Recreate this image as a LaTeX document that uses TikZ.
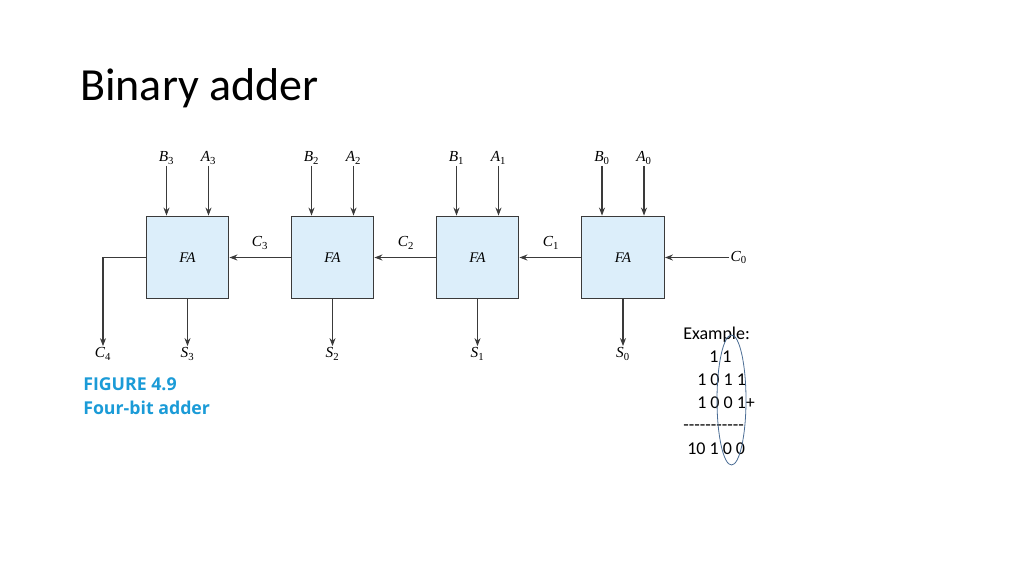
\documentclass[tikz,border=0pt]{standalone}
\usepackage{fontspec}
\setmainfont{Carlito}
\newfontfamily\bookfont{Liberation Serif}
\newfontfamily\capfont{Open Sans}
\usetikzlibrary{arrows.meta,positioning,calc}
\definecolor{fafill}{HTML}{DCEEFA}
\definecolor{faline}{HTML}{3A3A3A}
\definecolor{figblue}{HTML}{1B9BD7}
\definecolor{ringblue}{HTML}{4A6C94}
\newcommand{\sig}[2]{\textit{#1}\textsubscript{#2}}
\tikzset{
  fa/.style={draw=faline, fill=fafill, line width=0.9pt, minimum width=62pt, minimum height=62pt, inner sep=0pt, font=\bookfont\itshape\fontsize{11}{13}\selectfont},
  sg/.style={font=\bookfont\fontsize{11.5}{13}\selectfont, inner sep=1pt},
  arr/.style={-{Stealth[length=6pt,width=4.5pt]}, line width=0.8pt, color=faline},
  ex/.style={anchor=base west, inner sep=0pt, font=\fontsize{13.5}{16}\selectfont},
  figcap/.style={anchor=base west, inner sep=0pt, text=figblue, font=\capfont\bfseries\fontsize{13.3}{16}\selectfont},
}
\begin{document}
\begin{tikzpicture}[x=0.75pt, y=-0.75pt]
  \useasboundingbox (0,0) rectangle (1024,576);
  \node[anchor=base west, inner sep=0pt, font=\fontsize{34.5}{40}\selectfont] (title) at (80,100) {Binary adder};
  % four full adders with their inputs and sums
  \foreach \i/\x in {3/187.5, 2/332.5, 1/477.5, 0/623}
  {
    \node[fa] (fa\i) at (\x,257.5) {FA};
    \node[sg] (b\i) at (\x-21,158) {\sig{B}{\i}};
    \node[sg] (a\i) at (\x+21,158) {\sig{A}{\i}};
    \node[sg] (s\i) at (\x,354) {\sig{S}{\i}};
    \draw[arr] (b\i.south) -- (b\i.south |- fa\i.north);
    \draw[arr] (a\i.south) -- (a\i.south |- fa\i.north);
    \draw[arr] (fa\i.south) -- (s\i.north);
  }
  % carry chain
  \node[sg, anchor=west] (c0) at (729,257.5) {\sig{C}{0}};
  \draw[arr] (c0.west) -- (fa0.east);
  \foreach \a/\b/\i/\x in {fa0/fa1/1/551, fa1/fa2/2/406, fa2/fa3/3/260}
  {
    \draw[arr] (\a.west) -- (\b.east);
    \node[sg] (c\i) at (\x,243) {\sig{C}{\i}};
  }
  \node[sg] (c4) at (103,354) {\sig{C}{4}};
  \draw[arr] (fa3.west) -- (c4.north |- fa3.west) -- (c4.north);
  \node[figcap] (fig) at (83,390) {FIGURE 4.9};
  \node[figcap] (figname) at (83,414) {Four-bit adder};
  % worked example
  \node[ex] (ex0) at (683,339) {Example:};
  \node[ex] (ex1) at (709,362) {1 1};
  \node[ex] (ex2) at (697,385) {1 0 1 1};
  \node[ex] (ex3) at (697,408) {1 0 0 1+};
  \node[ex] (ex4) at (683,430) {-{}-{}-{}-{}-{}-{}-{}-{}-{}-{}-};
  \node[ex] (ex5) at (687,454) {10 1 0 0};
  \draw[ringblue, line width=0.6pt] (731.5,400) ellipse [x radius=14.5, y radius=65];
\end{tikzpicture}
\end{document}
